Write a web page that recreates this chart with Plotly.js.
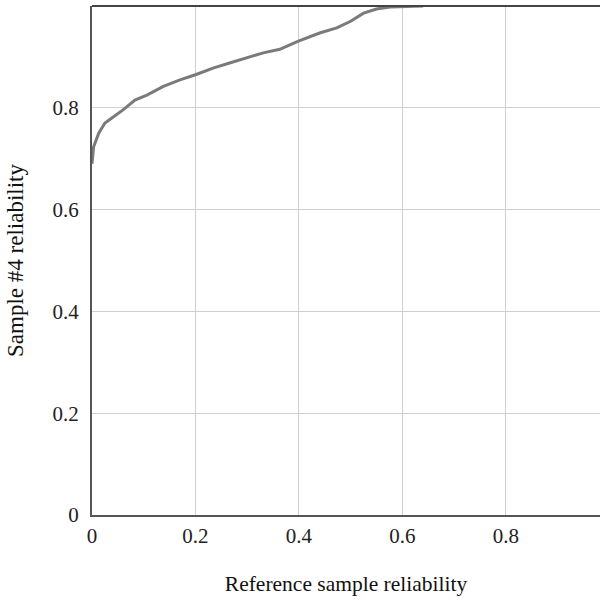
<!DOCTYPE html>
<html>
<head>
<meta charset="utf-8">
<script src="https://cdn.plot.ly/plotly-3.0.1.min.js"></script>
<style>html,body{margin:0;padding:0;background:#fff;}#chart{width:601px;height:601px;}</style>
</head>
<body>
<div id="chart"></div>
<script>
var refReliability = [0, 0.003, 0.013, 0.025, 0.041, 0.06, 0.083, 0.106, 0.138, 0.17, 0.2, 0.234, 0.266, 0.299, 0.331, 0.363, 0.399, 0.44, 0.473, 0.5, 0.525, 0.55, 0.576, 0.64];
var sampleReliability = [0.69, 0.723, 0.75, 0.77, 0.782, 0.796, 0.815, 0.825, 0.842, 0.855, 0.865, 0.878, 0.888, 0.898, 0.908, 0.915, 0.931, 0.947, 0.957, 0.97, 0.986, 0.994, 0.998, 1.0];
var xTickVals = [0, 0.2, 0.4, 0.6, 0.8];
var xTickText = ['0', '0.2', '0.4', '0.6', '0.8'];
var yTickVals = [0, 0.2, 0.4, 0.6, 0.8];
var yTickText = ['0', '0.2', '0.4', '0.6', '0.8'];

var fam = '"Liberation Serif", "DejaVu Serif", serif';
var tickFont = {family: fam, size: 21, color: '#222'};
var xTitleFont = {family: fam, size: 21.5, color: '#111'};
var yTitleFont = {family: fam, size: 23, color: '#111'};

var trace = {
  x: refReliability,
  y: sampleReliability,
  type: 'scatter',
  mode: 'lines',
  line: {color: '#7a7a7a', width: 3},
  hoverinfo: 'skip'
};

var layout = {
  width: 601,
  height: 601,
  margin: {l: 92, r: 1, t: 6, b: 86},
  paper_bgcolor: '#fff',
  plot_bgcolor: '#fff',
  showlegend: false,
  font: tickFont,
  xaxis: {
    range: [0, 0.982],
    tickvals: xTickVals,
    ticktext: xTickText,
    showgrid: true,
    gridcolor: '#cfcfcf',
    gridwidth: 1,
    zeroline: false,
    showline: true,
    linecolor: '#555',
    linewidth: 2,
    ticks: '',
    ticklabelstandoff: 1,
    tickfont: tickFont,
    title: {text: 'Reference sample reliability', font: xTitleFont, standoff: 29}
  },
  yaxis: {
    range: [0, 1],
    tickvals: yTickVals,
    ticktext: yTickText,
    showgrid: true,
    gridcolor: '#cfcfcf',
    gridwidth: 1,
    zeroline: false,
    showline: true,
    linecolor: '#555',
    linewidth: 2,
    ticks: '',
    ticklabelstandoff: 7,
    tickfont: tickFont,
    title: {text: 'Sample #4 reliability', font: yTitleFont, standoff: 22}
  },
  shapes: [{
    type: 'line', xref: 'paper', yref: 'paper',
    x0: 0, x1: 1, y0: 1, y1: 1,
    line: {color: '#444', width: 2}
  }]
};

Plotly.newPlot('chart', [trace], layout, {displayModeBar: false, staticPlot: true});
</script>
</body>
</html>
